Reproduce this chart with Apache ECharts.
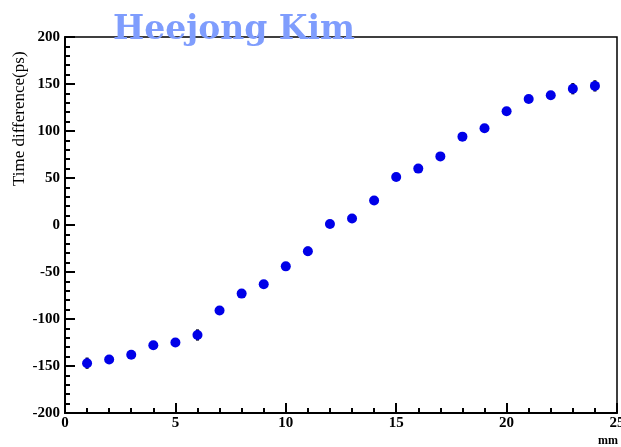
<!DOCTYPE html>
<html><head><meta charset="utf-8">
<script src="https://cdn.jsdelivr.net/npm/echarts@6/dist/echarts.min.js"></script>
<style>html,body{margin:0;padding:0;background:#fff}#c{width:621px;height:447px}</style>
</head><body><div id="c"></div>
<script>
const positions = [1,2,3,4,5,6,7,8,9,10,11,12,13,14,15,16,17,18,19,20,21,22,23,24];
const timeDiff = [-147,-143,-138,-128,-125,-117,-91,-73,-63,-44,-28,1,7,26,51,60,73,94,103,121,134,138,145,148];
const timeErr = [6,2,2,2,2,6,2,2,2,2,5,2,2,2,2,2,2,2,2,2,2,2,6,6];
const xTicks = [0,5,10,15,20,25];
const yTicks = [-200,-150,-100,-50,0,50,100,150,200];

const pts = positions.map((x,i)=>[x,timeDiff[i]]);
const errs = positions.map((x,i)=>[x,timeDiff[i]-timeErr[i],timeDiff[i]+timeErr[i]]);
const font = '"Liberation Serif","DejaVu Serif",serif';

const chart = echarts.init(document.getElementById('c'), null, {renderer:'canvas'});
chart.setOption({
  animation:false,
  backgroundColor:'#fff',
  title:{text:'Heejong Kim', left:229, top:9, textAlign:'center',
    textStyle:{fontFamily:'"DejaVu Serif",serif', fontSize:33, fontWeight:'bold', color:'#7f9dfd'}, z:10},
  grid:{left:65, right:4, top:37, bottom:34, show:true, borderColor:'#000', borderWidth:1.5, backgroundColor:'transparent', outerBoundsMode:'none', containLabel:false},
  xAxis:{type:'value', min:xTicks[0], max:xTicks[xTicks.length-1], interval:5,
    axisLine:{show:true, onZero:false, lineStyle:{color:'#000', width:2}},
    axisTick:{show:true, inside:true, length:10, lineStyle:{color:'#000', width:2}},
    minorTick:{show:true, splitNumber:5, length:5, lineStyle:{color:'#000', width:2}},
    splitLine:{show:false},
    axisLabel:{fontFamily:font, fontSize:15, fontWeight:'bold', color:'#000', margin:3, showMaxLabel:true}
  },
  yAxis:{type:'value', min:yTicks[0], max:yTicks[yTicks.length-1], interval:50,
    axisLine:{show:true, onZero:false, lineStyle:{color:'#000', width:2}},
    axisTick:{show:true, inside:true, length:10, lineStyle:{color:'#000', width:2}},
    minorTick:{show:true, splitNumber:5, length:5, lineStyle:{color:'#000', width:2}},
    splitLine:{show:false},
    axisLabel:{fontFamily:font, fontSize:15, fontWeight:'bold', color:'#000', margin:5}
  },
  graphic:[
    {type:'text', x:11, y:186, rotation:Math.PI/2, style:{text:'Time difference(ps)', fontFamily:font, fontSize:17, fill:'#000', textAlign:'left', textVerticalAlign:'top'}},
    {type:'text', right:3, bottom:0, style:{text:'mm', fontFamily:font, fontSize:12, fontWeight:'bold', fill:'#000'}}
  ],
  series:[
    {type:'custom', data:errs, z:3,
      renderItem:function(params, api){
        const x=api.value(0), lo=api.value(1), hi=api.value(2);
        const p1=api.coord([x,lo]), p2=api.coord([x,hi]);
        return {type:'line', shape:{x1:p1[0],y1:p1[1],x2:p2[0],y2:p2[1]}, style:{stroke:'#000022', lineWidth:3}};
      }},
    {type:'scatter', data:pts, symbol:'circle', symbolSize:10, z:4,
      itemStyle:{color:'#0000e8', opacity:1}}
  ]
});
</script></body></html>
